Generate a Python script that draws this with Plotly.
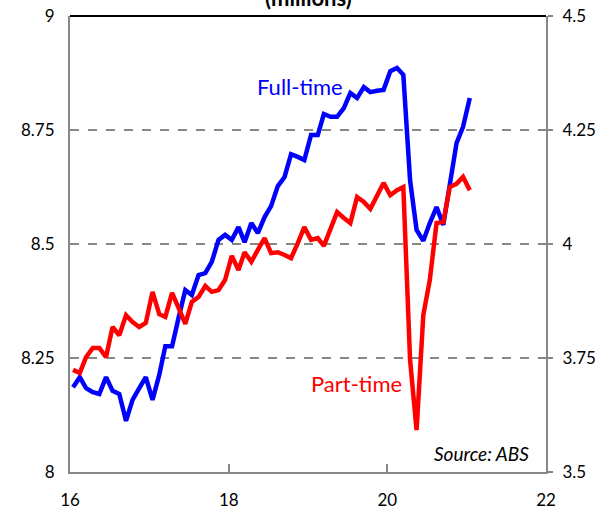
import pandas as pd
import plotly.graph_objects as go

# Monthly observations, Jan 2016 - Jan 2021 (plotted mid-month)
months = pd.date_range("2016-01-01", periods=61, freq="MS") + pd.Timedelta(days=14)

full_time = [
    8.186, 8.208, 8.184, 8.175, 8.171, 8.208, 8.178, 8.171, 8.112, 8.158,
    8.184, 8.208, 8.158, 8.213, 8.276, 8.276, 8.338, 8.399, 8.388, 8.432,
    8.436, 8.461, 8.509, 8.520, 8.509, 8.537, 8.504, 8.546, 8.524, 8.559,
    8.583, 8.627, 8.647, 8.697, 8.691, 8.684, 8.739, 8.739, 8.785, 8.779,
    8.779, 8.798, 8.831, 8.820, 8.844, 8.833, 8.836, 8.838, 8.879, 8.886,
    8.871, 8.640, 8.531, 8.507, 8.546, 8.581, 8.542, 8.629, 8.721, 8.757,
    8.820,
]

part_time = [
    3.724, 3.717, 3.752, 3.772, 3.772, 3.752, 3.818, 3.800, 3.844, 3.829,
    3.818, 3.827, 3.895, 3.846, 3.840, 3.893, 3.860, 3.825, 3.873, 3.884,
    3.908, 3.895, 3.899, 3.921, 3.974, 3.943, 3.982, 3.961, 3.987, 4.013,
    3.980, 3.982, 3.976, 3.969, 4.002, 4.037, 4.009, 4.013, 3.996, 4.031,
    4.070, 4.057, 4.046, 4.103, 4.092, 4.077, 4.107, 4.134, 4.107, 4.118,
    4.125, 3.746, 3.592, 3.844, 3.921, 4.046, 4.048, 4.125, 4.132, 4.147,
    4.118,
]

x_tick_dates = ["2016-01-01", "2018-01-01", "2020-01-01", "2022-01-01"]
x_tick_text = ["16", "18", "20", "22"]
left_ticks = [8, 8.25, 8.5, 8.75, 9]
left_text = ["8", "8.25", "8.5", "8.75", "9"]
right_ticks = [3.5, 3.75, 4, 4.25, 4.5]
right_text = ["3.5", "3.75", "4", "4.25", "4.5"]

FONT = "Lato, 'Open Sans', sans-serif"
GREY = "#878787"

fig = go.Figure()
fig.add_trace(go.Scatter(x=months, y=full_time, mode="lines", name="Full-time",
                         line=dict(color="#0000FF", width=4.5), yaxis="y"))
fig.add_trace(go.Scatter(x=months, y=part_time, mode="lines", name="Part-time",
                         line=dict(color="#FF0000", width=4.5), yaxis="y2"))

fig.update_layout(
    width=616, height=513,
    margin=dict(l=70, r=70, t=16, b=41, autoexpand=False),
    plot_bgcolor="white", paper_bgcolor="white",
    showlegend=False,
    font=dict(family=FONT, size=17, color="black"),
    xaxis=dict(
        range=["2016-01-01", "2022-01-01"], tickvals=x_tick_dates, ticktext=x_tick_text,
        showline=True, linecolor=GREY, linewidth=2, ticks="inside", ticklen=8,
        tickcolor=GREY, tickwidth=2, showgrid=False, zeroline=False,
        ticklabelstandoff=12, automargin=False,
    ),
    yaxis=dict(
        range=[8, 9], tickvals=left_ticks, ticktext=left_text,
        showline=True, linecolor=GREY, linewidth=2, ticks="",
        showgrid=True, gridcolor=GREY, gridwidth=2, griddash="dash",
        zeroline=False, ticklabelstandoff=10, automargin=False,
    ),
    yaxis2=dict(
        range=[3.5, 4.5], tickvals=right_ticks, ticktext=right_text,
        overlaying="y", side="right",
        showline=True, linecolor=GREY, linewidth=2, ticks="outside", ticklen=5,
        tickcolor=GREY, tickwidth=2, showgrid=False, zeroline=False,
        ticklabelstandoff=6, automargin=False,
    ),
)

# solid top border of the plot area
fig.add_shape(type="line", xref="paper", yref="paper", x0=0, x1=1, y0=1, y1=1,
              line=dict(color="black", width=2))

fig.add_annotation(text="<b>(millions)</b>", xref="paper", yref="paper", x=0.5, y=1,
                   xanchor="center", yanchor="bottom", yshift=3, showarrow=False,
                   font=dict(size=22, family=FONT))
fig.add_annotation(text="Full-time", xref="x", yref="y", x="2018-11-25", y=8.846,
                   showarrow=False, font=dict(size=22, color="#0000FF", family=FONT))
fig.add_annotation(text="Part-time", xref="x", yref="y2", x="2019-08-14", y=3.693,
                   showarrow=False, font=dict(size=22, color="#FF0000", family=FONT))
fig.add_annotation(text="<i>Source: ABS</i>", xref="paper", yref="paper", x=0.968, y=0.04,
                   xanchor="right", yanchor="middle", showarrow=False,
                   font=dict(size=19, family=FONT))

fig.write_html(
    "out.html",
    config={"displayModeBar": False},
    post_script="document.body.style.margin='0';document.body.style.padding='0';",
)
